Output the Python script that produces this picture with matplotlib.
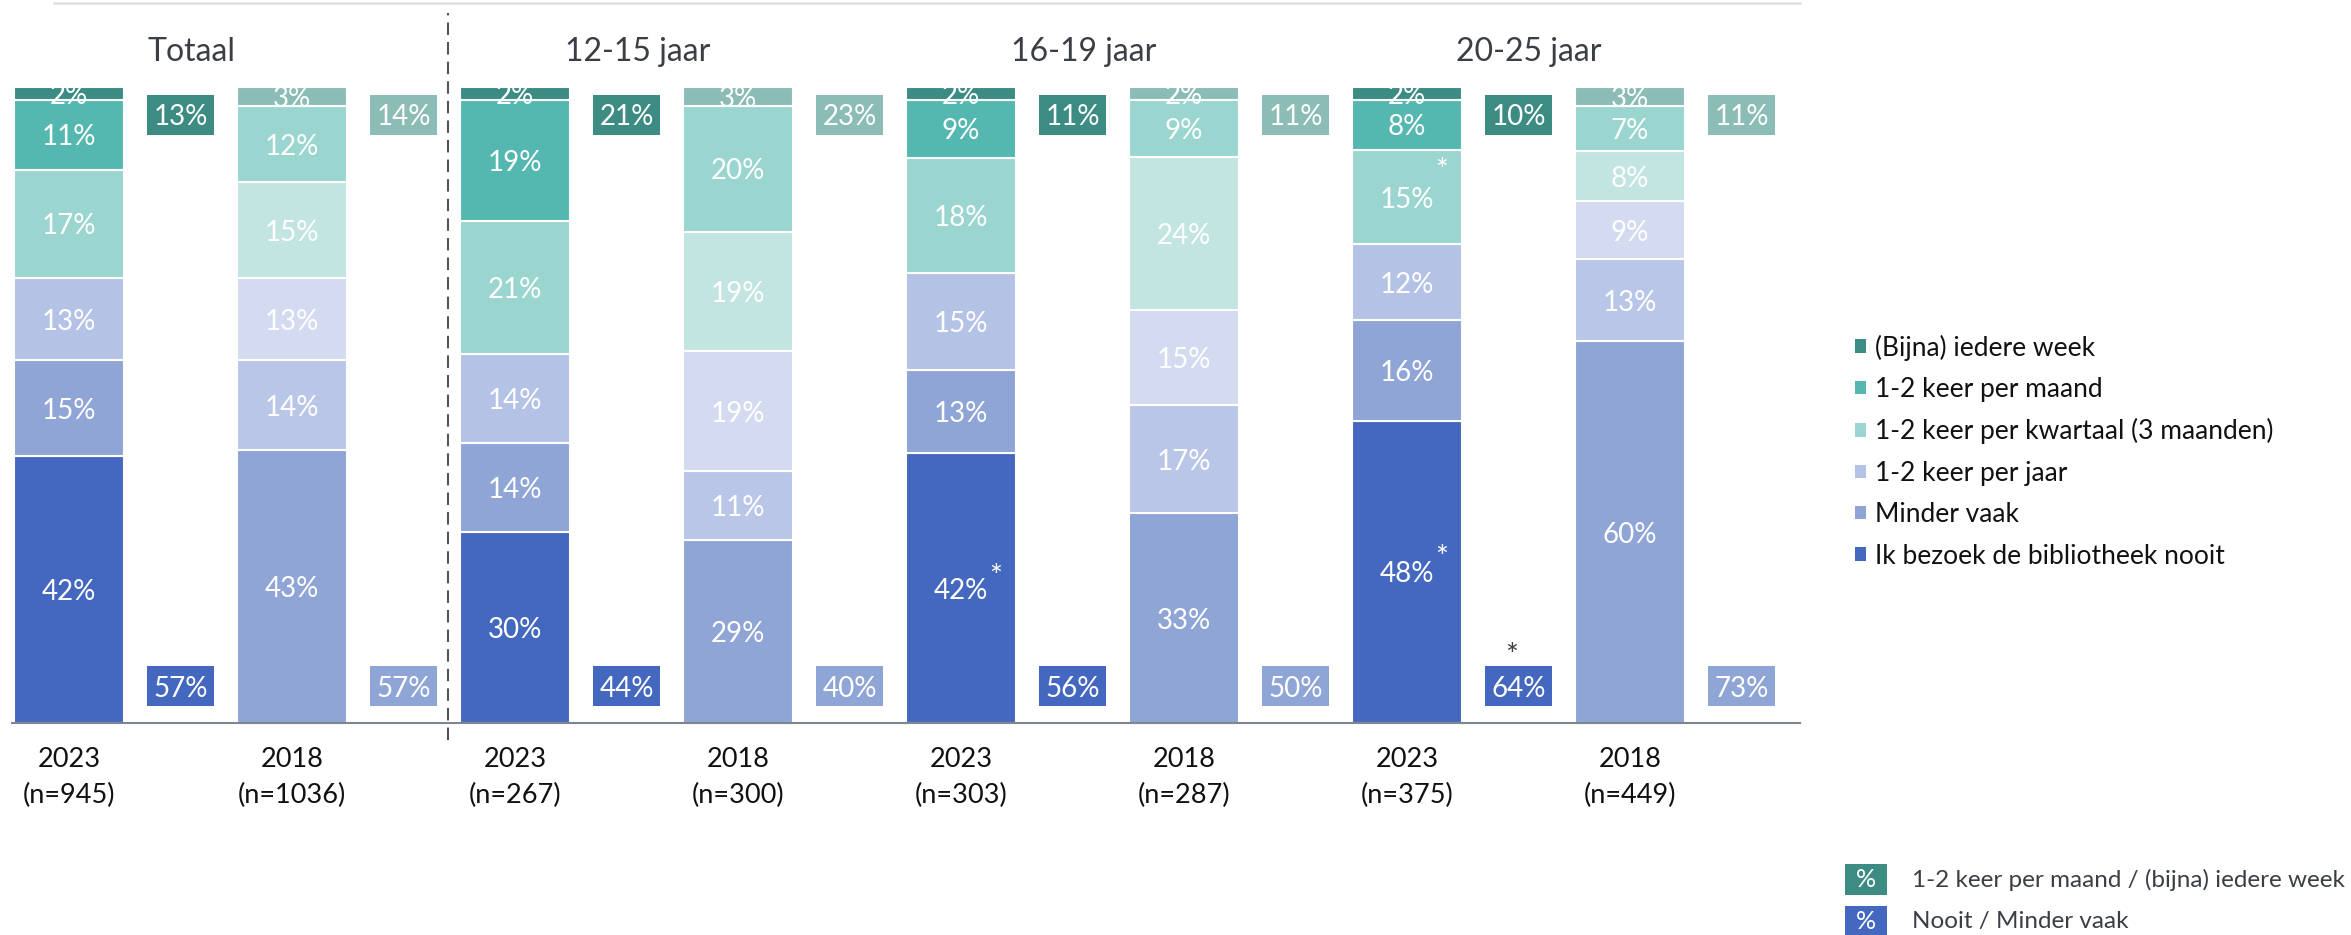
import numpy as np
import matplotlib.pyplot as plt
from matplotlib.patches import Patch, Rectangle

plt.rcParams['font.family'] = ['Lato', 'DejaVu Sans']

# groups and years
groups = ['Totaal', '12-15 jaar', '16-19 jaar', '20-25 jaar']
years = ['2023', '2018']
n_2023 = [945, 267, 303, 375]
n_2018 = [1036, 300, 287, 449]

# categories, bottom to top
categories = ['Ik bezoek de bibliotheek nooit', 'Minder vaak', '1-2 keer per jaar',
              '1-2 keer per kwartaal (3 maanden)', '1-2 keer per maand', '(Bijna) iedere week']

# bar order: Totaal 2023, Totaal 2018, 12-15 2023, 12-15 2018, ...
nooit = [42, 43, 30, 29, 42, 33, 48, 60]
minder = [15, 14, 14, 11, 13, 17, 16, 13]
jaar = [13, 13, 14, 19, 15, 15, 12, 9]
kwartaal = [17, 15, 21, 19, 18, 24, 15, 8]
maand = [11, 12, 19, 20, 9, 9, 8, 7]
week = [2, 3, 2, 3, 2, 2, 2, 3]

# summary boxes
top_box = [13, 14, 21, 23, 11, 11, 10, 11]
bottom_box = [57, 57, 44, 40, 56, 50, 64, 73]

# significance marks: (bar index, category index) and bottom boxes
sig_segments = [(4, 0), (6, 0), (6, 3)]
sig_bottom_box = [6]
# offset (points) of each asterisk from its label
sig_offsets = {(4, 0): (25, 8), (6, 0): (25, 10), (6, 3): (25, 19)}

colors_2023 = ['#4468bf', '#8fa5d6', '#b4c2e5', '#9ad5cf', '#55b8b0', '#3d8c84']
colors_2018 = ['#8fa5d6', '#b9c6e7', '#d4dbf0', '#c2e5e2', '#9ad5cf', '#8bbcb5']
top_box_colors = ['#3d8c84', '#8bbcb5']
bottom_box_colors = ['#4468bf', '#8fa5d6']

W, H = 2351, 935
fig = plt.figure(figsize=(W / 100, H / 100), dpi=100)
# axes: baseline at pixel 723, 100% at pixel 87, 1 group = 446 px
ax = fig.add_axes([0, (H - 723) / H, 1800 / W, 636 / H])
ax.set_xlim(-69 / 446, (1800 - 69) / 446)
ax.set_ylim(0, 100)
ax.axis('off')

stack = np.array([nooit, minder, jaar, kwartaal, maand, week], dtype=float)
shares = stack / stack.sum(axis=0) * 100

nbars = stack.shape[1]
x_bar = np.array([k // 2 + 0.5 * (k % 2) for k in range(nbars)])
x_box = x_bar + 0.25
bar_w = 0.247
box_w = 0.152
box_h = 6.3

bottom = np.zeros(nbars)
for i in range(len(categories)):
    cols = [colors_2023[i] if k % 2 == 0 else colors_2018[i] for k in range(nbars)]
    ax.bar(x_bar, shares[i], bottom=bottom, width=bar_w, color=cols,
           edgecolor='white', linewidth=1.5)
    for k in range(nbars):
        ax.text(x_bar[k], bottom[k] + shares[i][k] / 2, f'{stack[i][k]:.0f}%',
                ha='center', va='center_baseline', color='white', fontsize=20,
                clip_on=True)
    bottom += shares[i]

for k, i in sig_segments:
    yc = shares[:i, k].sum() + shares[i, k] / 2
    ax.annotate('*', (x_bar[k], yc), xytext=sig_offsets[(k, i)],
                textcoords='offset points', ha='center', va='center',
                color='white', fontsize=22)

# summary boxes
top_c = [top_box_colors[k % 2] for k in range(nbars)]
bot_c = [bottom_box_colors[k % 2] for k in range(nbars)]
ax.bar(x_box, box_h, bottom=95.6 - box_h / 2, width=box_w, color=top_c)
ax.bar(x_box, box_h, bottom=5.8 - box_h / 2, width=box_w, color=bot_c)
for k in range(nbars):
    ax.text(x_box[k], 95.6, f'{top_box[k]}%', ha='center', va='center_baseline',
            color='white', fontsize=20)
    ax.text(x_box[k], 5.8, f'{bottom_box[k]}%', ha='center', va='center_baseline',
            color='white', fontsize=20)
for k in sig_bottom_box:
    ax.annotate('*', (x_box[k], 5.8), xytext=(-5, 22), textcoords='offset points',
                ha='center', va='center', color='#404040', fontsize=22)

# category labels
for k in range(nbars):
    g = k // 2
    n = n_2023[g] if k % 2 == 0 else n_2018[g]
    ax.text(x_bar[k], -5.7, years[k % 2], ha='center', va='center',
            fontsize=19.5, color='#111111')
    ax.text(x_bar[k], -11.4, f'(n={n})', ha='center', va='center',
            fontsize=19.5, color='#111111')

# group titles
for g, name in enumerate(groups):
    ax.text(g + 0.274, 104.1, name, ha='center', va='baseline',
            fontsize=23, color='#3b3f45')

# lines
ax.plot([-0.128, 3.881], [0, 0], color='#7d8590', lw=1.5, clip_on=False, zorder=3)
ax.plot([-0.034, 3.881], [113.2, 113.2], color='#e0e0e0', lw=1.8, clip_on=False)
ax.plot([0.85, 0.85], [-2.7, 111.6], color='#555555', lw=1.5,
        linestyle=(0, (6, 3.4)), clip_on=False)

# category legend
handles = [Patch(facecolor=colors_2023[i], label=categories[i])
           for i in reversed(range(len(categories)))]
fig.legend(handles=handles, loc='center left', bbox_to_anchor=(1855 / W, (H - 451.5) / H),
           frameon=False, fontsize=19, handlelength=0.4, handleheight=0.4,
           handletextpad=0.35, labelspacing=0.62, borderpad=0, borderaxespad=0,
           labelcolor='#111111')

# box legend
box_labels = ['1-2 keer per maand / (bijna) iedere week', 'Nooit / Minder vaak']
box_cols = [top_box_colors[0], bottom_box_colors[0]]
for r, (lab, c) in enumerate(zip(box_labels, box_cols)):
    top_px = 864 + 42 * r
    fig.add_artist(Rectangle((1845 / W, (H - top_px - 31) / H), 42 / W, 31 / H,
                             transform=fig.transFigure, facecolor=c, edgecolor='none'))
    fig.text(1866 / W, (H - top_px - 15.5) / H, '%', ha='center', va='center',
             color='white', fontsize=18)
    fig.text(1912 / W, (H - top_px - 15.5) / H, lab, ha='left', va='center',
             color='#3b3f45', fontsize=17.5)

fig.savefig('out.png', dpi=100, facecolor='white')
